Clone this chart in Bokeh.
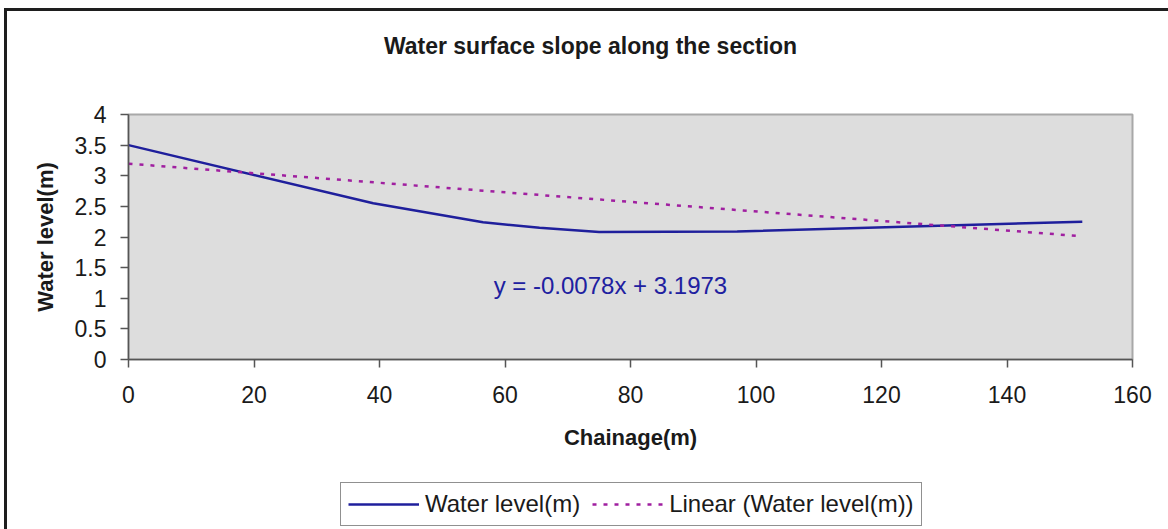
from bokeh.plotting import figure
from bokeh.layouts import column
from bokeh.models import Range1d, FixedTicker, Label, Legend, LegendItem
from bokeh.embed import file_html
from bokeh.resources import INLINE

# ---- data ----
chainage = [0, 39, 56.5, 65.5, 75, 97, 152]
water_level = [3.50, 2.55, 2.24, 2.15, 2.08, 2.09, 2.25]
trend_slope = -0.0078
trend_intercept = 3.1973
trend_x = [chainage[0], chainage[-1]]
trend_y = [trend_intercept + trend_slope * v for v in trend_x]

x_ticks = [0, 20, 40, 60, 80, 100, 120, 140, 160]
y_ticks = [0, 0.5, 1, 1.5, 2, 2.5, 3, 3.5, 4]
y_tick_labels = ["0", "0.5", "1", "1.5", "2", "2.5", "3", "3.5", "4"]

title_text = "Water surface slope along the section"
x_label = "Chainage(m)"
y_label = "Water level(m)"
series_name = "Water level(m)"
trend_name = "Linear (Water level(m))"
eq_text = "y = -0.0078x + 3.1973"

FONT = "Liberation Sans"
BLUE = "#1f1f9c"
MAGENTA = "#a01fa0"
TXT = "#1a1a1a"

W = 1161
H_TITLE = 60
H_MAIN = 410
H_LEG = 48


def strip(height):
    s = figure(width=W, height=height, output_backend="svg", toolbar_location=None,
               x_range=Range1d(-2, -1), y_range=Range1d(-2, -1),
               x_axis_type=None, y_axis_type=None,
               min_border_left=0, min_border_right=0,
               min_border_top=0, min_border_bottom=0)
    s.outline_line_color = None
    s.xgrid.visible = False
    s.ygrid.visible = False
    s.background_fill_color = "white"
    s.border_fill_color = "white"
    return s


# ---- title strip ----
t = strip(H_TITLE)
t.add_layout(Label(x=462, y=26, x_units="screen", y_units="screen",
                   text=title_text, text_align="center", text_baseline="middle",
                   text_font=FONT, text_font_size="23px",
                   text_font_style="bold", text_color=TXT))

# ---- main chart ----
p = figure(width=W, height=H_MAIN, output_backend="svg", toolbar_location=None,
           x_range=Range1d(0, 160), y_range=Range1d(0, 4),
           min_border_left=121, min_border_right=36,
           min_border_top=43, min_border_bottom=122)

p.background_fill_color = "#dddddd"
p.border_fill_color = "white"
p.outline_line_color = "#a8a8a8"
p.outline_line_width = 2
p.xgrid.visible = False
p.ygrid.visible = False

for ax in (p.xaxis[0], p.yaxis[0]):
    ax.axis_line_color = "#555555"
    ax.axis_line_width = 1.5
    ax.major_tick_line_color = "#555555"
    ax.major_tick_line_width = 1.5
    ax.major_tick_out = 8
    ax.major_tick_in = 0
    ax.minor_tick_line_color = None
    ax.major_label_text_font = FONT
    ax.major_label_text_font_size = "23px"
    ax.major_label_text_color = TXT
    ax.axis_label_text_font = FONT
    ax.axis_label_text_font_size = "22px"
    ax.axis_label_text_font_style = "bold"
    ax.axis_label_text_color = TXT

p.xaxis.ticker = FixedTicker(ticks=x_ticks)
p.yaxis.ticker = FixedTicker(ticks=y_ticks)
p.yaxis.major_label_overrides = {t_: s_ for t_, s_ in zip(y_ticks, y_tick_labels)}
p.xaxis.axis_label = x_label
p.yaxis.axis_label = y_label
p.xaxis.major_label_standoff = 18
p.xaxis.axis_label_standoff = 19
p.yaxis.major_label_standoff = 14
p.yaxis.axis_label_standoff = 14

p.line(chainage, water_level, line_color=BLUE, line_width=2.5)
p.line(trend_x, trend_y, line_color=MAGENTA, line_width=2.5, line_dash="4 7")

eq = Label(x=76.8, y=1.21, text=eq_text, text_align="center",
           text_baseline="middle", text_font=FONT,
           text_font_size="24px", text_color="#2020a0")
p.add_layout(eq)

# ---- legend strip (its ranges keep the series out of view) ----
q = strip(H_LEG)
k_line = q.line(chainage, water_level, line_color=BLUE, line_width=2.5)
k_trend = q.line(trend_x, trend_y, line_color=MAGENTA, line_width=2.5,
                 line_dash="4 7")

legend = Legend(items=[LegendItem(label=series_name, renderers=[k_line]),
                       LegendItem(label=trend_name, renderers=[k_trend])],
                orientation="horizontal", location=(212, 3),
                label_text_font=FONT, label_text_font_size="24px",
                label_text_color=TXT, glyph_width=71, glyph_height=20,
                label_standoff=6, spacing=12, padding=7, margin=0,
                border_line_color="#222222", border_line_width=1.5,
                background_fill_color="white", background_fill_alpha=1)
q.add_layout(legend, "center")

root = column(t, p, q, spacing=0)
root.styles = {"margin-left": "4px", "margin-top": "8px",
               "border-left": "3px solid #1e1e1e", "border-top": "3px solid #1e1e1e"}

open("out.html", "w").write(file_html(root, INLINE))
